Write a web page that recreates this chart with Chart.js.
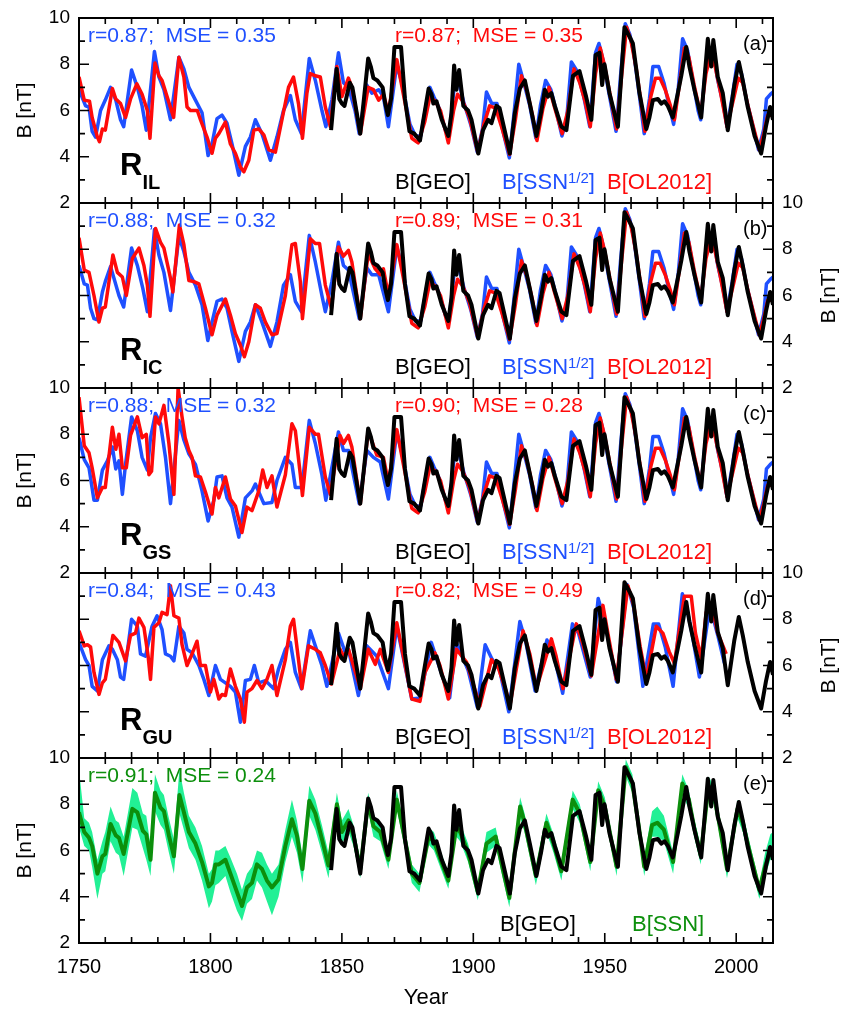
<!DOCTYPE html>
<html>
<head>
<meta charset="utf-8">
<script src="https://cdn.jsdelivr.net/npm/chart.js@4.4.1/dist/chart.umd.min.js"></script>
<style>
  body { margin: 0; background: #fff; }
  #page { position: relative; width: 848px; height: 1013px; overflow: hidden; background: #fff; }
  #page canvas { position: absolute; left: 0; }
</style>
</head>
<body>
<div id="page"></div>
<script>
// ---- data: [year, B in nT] ----

// B[GEO], same curve in every panel
const geoB = [
    [1845.9,5.15],[1848,7.8],[1849,6.5],[1850,6.3],[1851,6.2],[1853,7.2],[1854,7.0],[1855.5,6.0],[1857,5.0],
    [1860,8.25],[1861,7.9],[1862,7.4],[1863.5,7.3],[1865.5,7.0],[1866.5,6.3],[1867.5,5.8],[1868.7,6.5],
    [1870,8.75],[1872.5,8.75],[1874,6.5],[1875.7,5.1],[1877.5,5.0],[1879.7,4.7],[1881,5.6],[1883,6.95],
    [1884.1,6.7],[1884.8,6.3],[1886,6.4],[1888,5.6],[1890.5,4.9],[1891.7,5.9],[1892.7,7.95],[1893.6,6.9],
    [1894.6,7.75],[1896.2,6.2],[1898,6.0],[1899.3,5.6],[1901.9,4.14],[1903.7,5.15],[1905.6,5.6],[1906.9,5.45],
    [1908.8,6.2],[1910,6.1],[1912.6,4.8],[1913.9,4.14],[1915.8,5.9],[1917.7,6.95],[1919.6,7.3],[1921.5,6.3],
    [1924,4.9],[1925.9,6.0],[1927.2,6.9],[1928.4,6.6],[1929.7,6.75],[1931,6.2],[1933.5,5.3],[1935.4,5.15],
    [1937.9,7.5],[1940.4,7.7],[1942.9,6.6],[1944.9,5.6],[1946.5,8.4],[1948,8.5],[1949,7.1],[1949.9,8.0],
    [1951.8,6.75],[1955,5.3],[1957.5,9.6],[1959.4,9.2],[1960.7,8.9],[1963.2,6.75],[1965.8,5.2],[1967,5.7],
    [1968.3,6.45],[1970.2,6.5],[1971.5,6.3],[1972.7,6.4],[1974,6.2],[1975.9,5.7],[1977.8,6.75],[1979.1,7.5],
    [1981,8.75],[1982.2,7.9],[1984.1,6.9],[1986.7,5.7],[1989.2,9.1],[1990.5,7.9],[1991.3,9.05],[1993,7.45],
    [1994.9,6.75],[1996.8,5.15],[1999.3,7.1],[2001,8.1],[2002.5,7.3],[2004.4,6.15],[2007,4.9],[2009.5,4.14],
    [2011.3,5.3],[2012.9,6.15],[2014,5.6]
];

// late parts (after 1875) of B[SSN^1/2] and B[OL2012], nearly the same in panels a-c
const ssnLate = [
    [1875.9,5.4],[1878,4.9],[1880,4.9],[1882,6.2],[1883.5,7.0],[1885,6.6],[1887,6.1],[1889.5,5.1],[1891,5.2],
    [1893,7.3],[1894.5,7.2],[1896.5,6.3],[1899,5.4],[1901.5,4.2],[1903.5,5.2],[1905,6.8],[1907,6.3],[1909,6.3],
    [1911.5,5.0],[1913.7,3.95],[1915.5,5.9],[1917.3,8.0],[1919,7.3],[1921.5,6.2],[1923.8,4.8],[1925.5,6.2],
    [1927.5,7.3],[1929.5,6.9],[1931.5,6.0],[1933.7,4.9],[1935.5,5.6],[1937.3,8.1],[1939.5,7.7],[1942,6.6],
    [1944.3,5.3],[1946.5,8.5],[1947.8,8.9],[1949.5,8.1],[1951.5,6.8],[1954.3,5.1],[1956,7.5],[1957.8,9.75],
    [1959.5,9.3],[1961,8.5],[1963,6.8],[1965,5.0],[1967,6.5],[1968.3,7.9],[1970.5,7.9],[1972.5,7.2],
    [1974.5,6.2],[1976.2,5.4],[1978,7.0],[1979.6,9.1],[1981.5,8.6],[1983.5,7.3],[1985.5,6.0],[1986.5,5.6],
    [1988.5,8.0],[1989.8,8.7],[1991.3,8.5],[1993,7.3],[1995,6.3],[1996.5,5.3],[1998.5,6.6],[2000.3,8.0],
    [2002,7.6],[2004,6.4],[2006,5.5],[2008.5,4.3],[2010.5,5.2],[2011.5,6.5],[2013,6.7],[2014,6.8]
];
const olLate = [
    [1876.6,4.8],[1879,4.6],[1881.5,5.5],[1883.5,6.6],[1885.5,6.4],[1887.5,6.0],[1890.5,4.6],[1892.5,6.0],
    [1894,6.7],[1896,6.4],[1898.5,5.7],[1901.7,4.2],[1904,5.4],[1906.2,6.2],[1908.5,6.1],[1911,5.2],
    [1913.8,4.1],[1916,5.6],[1918.3,7.5],[1920.5,6.8],[1922.5,5.8],[1924.2,4.7],[1926.5,6.1],[1928.8,7.0],
    [1931,6.1],[1933.8,5.0],[1936,6.0],[1938.3,7.8],[1940.5,7.2],[1942.5,6.4],[1944.5,5.3],[1946.5,7.6],
    [1948.3,8.7],[1950,7.9],[1952,6.7],[1954.5,5.2],[1956.5,7.6],[1958.3,9.6],[1960,9.0],[1962,7.8],
    [1963.5,6.6],[1965.3,5.1],[1967.5,6.6],[1969.3,7.4],[1971,7.4],[1973,6.9],[1975,6.2],[1976.5,5.6],
    [1978.5,7.2],[1980.3,8.7],[1982,8.3],[1984,7.1],[1986.5,5.8],[1988.5,7.6],[1990.3,8.4],[1992,7.9],
    [1994,6.8],[1996.5,5.3],[1999,6.5],[2000.8,7.4],[2002.5,7.2],[2004.5,6.2],[2006.5,5.3],[2008.8,4.3],
    [2010.5,5.0],[2012,5.8],[2013.3,5.8]
];

// (a) R_IL
const ilSsn = [
    [1750,6.9],[1752.5,6.2],[1753.8,6.15],[1755,5.1],[1756.3,4.85],[1758.2,6.0],[1760,6.45],[1762,7.0],
    [1764,6.45],[1765.8,5.6],[1767,5.3],[1770,7.75],[1772.2,7.0],[1774,6.2],[1775.6,5.15],[1778.7,8.55],
    [1780.4,7.45],[1782.3,6.9],[1784.8,5.6],[1788,8.3],[1789.9,7.8],[1791.8,7.0],[1794.3,6.45],[1796.8,5.9],
    [1799.1,4.05],[1800.6,4.55],[1802.5,5.65],[1804.4,5.8],[1806.3,5.45],[1808.2,4.55],[1810.8,3.2],
    [1813.3,4.45],[1815.2,4.85],[1817.1,5.6],[1819.6,5.0],[1822.8,3.85],[1825.3,4.85],[1827.8,6.0],
    [1830.4,6.65],[1832.3,5.6],[1834.6,5.0],[1837.6,8.25],[1839.9,7.3],[1842.4,6.0],[1843.9,5.3],
    [1846.2,6.45],[1848.7,8.5],[1850.6,7.2],[1852.5,7.0],[1855,6.0],[1856.6,5.0],[1859.5,7.1],[1861.4,6.75],
    [1864,6.9],[1865.8,6.6],[1867.7,5.3],[1870.9,8.0],[1872.8,7.2]
];
const ilOl = [
    [1750,7.45],[1752,6.45],[1754,6.4],[1755,5.7],[1757,4.85],[1757.8,4.65],[1758.9,5.2],[1760,5.15],
    [1762.7,6.95],[1764,6.5],[1765.8,6.3],[1767.7,5.7],[1769.6,6.5],[1772,7.15],[1774,6.7],[1776,6.0],
    [1777,4.8],[1778.9,8.05],[1780.4,7.5],[1781.6,7.3],[1783.5,6.6],[1786,5.7],[1788,8.3],[1789.9,7.45],
    [1791.1,6.15],[1792.4,6.0],[1795,6.0],[1796.2,5.6],[1798.7,4.85],[1800.6,4.15],[1801.9,4.8],[1803.2,5.0],
    [1805.7,5.5],[1807.6,4.55],[1809.5,4.15],[1811.4,3.55],[1812.7,3.35],[1814.6,3.85],[1816.5,5.15],
    [1818.4,5.2],[1820.3,4.95],[1822.2,4.3],[1824.7,4.2],[1827.2,5.6],[1829.7,7.0],[1831.6,7.45],[1833.5,6.3],
    [1835,4.8],[1836.7,6.75],[1838,7.6],[1839.9,7.5],[1841.8,7.45],[1843.7,6.15],[1845.6,5.3],[1848.1,7.9],
    [1850,6.6],[1852.5,7.4],[1853.8,7.0],[1857,5.0],[1860,7.0],[1862,6.9],[1864,6.45],[1865.8,6.7],
    [1867.7,5.9],[1870.9,8.2],[1873.4,6.7]
];

// (b) R_IC
const icSsn = [
    [1750,7.3],[1752,6.5],[1753.2,6.45],[1754.4,5.45],[1755.7,5.0],[1757,4.95],[1758.9,6.15],[1760,6.6],
    [1762,7.25],[1763.3,6.75],[1765.2,6.0],[1767,5.5],[1770,8.05],[1772.2,7.3],[1774.3,6.3],[1776,5.3],
    [1778.7,8.85],[1780.4,7.75],[1782.3,7.0],[1784.8,5.35],[1788,8.55],[1789.9,7.9],[1791.8,7.0],[1794.3,6.45],
    [1796.8,5.6],[1799,4.05],[1800.6,4.85],[1802.5,5.75],[1804.4,5.85],[1806.3,5.45],[1808.2,4.45],[1810.8,3.15],
    [1813.3,4.45],[1815.2,4.85],[1817.1,5.6],[1819.6,4.85],[1822.8,3.8],[1825.3,4.85],[1827.8,6.45],
    [1830.4,6.9],[1832.3,5.75],[1834.6,5.3],[1837.6,8.6],[1839.9,7.45],[1842.4,6.0],[1843.7,5.3],
    [1846.2,6.6],[1848.7,8.3],[1850.6,7.3],[1852.5,7.1],[1856.6,5.0],[1859.5,7.2],[1861.4,6.9],[1864,6.9],
    [1867.7,5.3],[1870.9,8.1],[1872.8,7.3]
];
const icOl = [
    [1750,8.5],[1752,7.1],[1753.8,7.0],[1755.7,6.0],[1757.6,4.85],[1758.9,5.45],[1760,5.5],[1762.9,7.75],
    [1764.6,7.0],[1766.5,6.8],[1768,6.0],[1770.3,7.6],[1772.8,8.05],[1774.7,7.3],[1776,6.45],[1777,5.1],
    [1779.1,8.9],[1781,8.3],[1782.3,8.05],[1784.8,6.75],[1785.7,6.15],[1788.2,9.05],[1789.9,8.2],[1791.8,6.65],
    [1793.7,6.6],[1795.6,6.5],[1798.1,5.45],[1800.6,4.3],[1802.5,5.15],[1805.7,5.85],[1807.6,5.15],
    [1809.5,4.35],[1811.4,3.85],[1812.9,3.35],[1814.6,4.0],[1817.1,5.6],[1819,5.45],[1820.9,4.85],
    [1823.4,4.3],[1825.3,4.35],[1828.5,6.0],[1831,8.2],[1832.3,8.25],[1834.2,6.6],[1835,5.0],[1838,8.45],
    [1839.9,8.25],[1841.5,8.25],[1843.7,6.45],[1846,5.45],[1848.7,8.1],[1850.6,7.7],[1852.5,7.95],
    [1853.8,7.45],[1857,5.0],[1860,7.8],[1862.7,7.15],[1864.6,6.9],[1865.8,7.15],[1867.7,6.0],[1870.9,8.2],
    [1873.4,6.75]
];

// (c) R_GS
const gsSsn = [
    [1750,7.85],[1752,6.9],[1753.8,6.55],[1755.7,5.15],[1757,5.15],[1758.9,6.45],[1760.8,6.85],[1762.7,7.45],
    [1764,6.5],[1765.2,6.85],[1766.5,5.4],[1767.7,6.7],[1770,8.75],[1772.2,8.15],[1774,7.0],[1776,6.45],
    [1777.2,7.85],[1779.1,8.9],[1781,8.45],[1782.9,7.0],[1784.8,5.0],[1788,8.6],[1789.9,7.75],[1791.8,7.15],
    [1794.3,6.7],[1796.8,5.55],[1799.1,4.25],[1801.3,5.15],[1802.5,6.15],[1804.4,6.2],[1806.3,5.25],
    [1808.2,4.85],[1810.8,3.55],[1813.3,5.25],[1815.8,5.55],[1817.1,5.85],[1820.3,5.0],[1823.4,5.05],
    [1825.3,6.0],[1828.5,7.0],[1831,6.7],[1832.3,5.7],[1834.8,5.7],[1837.6,8.6],[1839.9,7.6],[1842.4,6.25],
    [1843.9,5.15],[1848.7,8.1],[1850.6,7.3],[1852.5,7.3],[1856.6,5.0],[1859.5,7.3],[1862,7.0],[1864.6,6.8],
    [1867.7,5.2],[1870.9,8.1],[1872.8,7.2]
];
const gsOl = [
    [1750,9.6],[1752,7.5],[1753.8,7.2],[1755,6.55],[1757,5.25],[1758.9,5.7],[1760,5.7],[1762.7,8.3],
    [1764,7.35],[1765.2,8.0],[1766.5,6.55],[1768,6.55],[1769.6,7.95],[1772.2,8.75],[1774,7.85],[1775.6,8.0],
    [1776.6,6.25],[1777.6,6.4],[1779.1,8.75],[1780.4,8.45],[1782.3,9.25],[1784.2,7.6],[1786.1,5.4],[1787.7,10.0],
    [1789.2,8.75],[1790.4,7.85],[1791.8,7.3],[1793,7.0],[1794.3,6.2],[1796.2,6.15],[1798.1,5.5],[1800.6,4.55],
    [1801.9,5.7],[1803.2,5.25],[1805.7,6.15],[1807.6,5.2],[1809.5,4.9],[1812,3.75],[1813.9,4.85],[1815.8,4.7],
    [1818.4,5.55],[1819.9,6.45],[1821.5,5.7],[1823.4,6.2],[1825.3,4.85],[1828.5,6.25],[1831,8.45],[1832.3,8.15],
    [1834.2,6.25],[1835,5.35],[1837.6,8.3],[1839.9,8.0],[1841.1,8.0],[1843.7,6.15],[1845.6,5.4],[1849.3,7.95],
    [1850.6,7.6],[1852.5,7.95],[1853.8,7.45],[1857,5.0],[1860,8.15],[1863.3,7.1],[1865.8,7.0],[1867.7,5.9],
    [1870.9,8.2],[1873.4,6.7]
];

// (d) R_GU, ends 1996
const guSsn = [
    [1750,7.0],[1752.5,6.25],[1753.8,6.0],[1755,5.1],[1757,4.9],[1758.9,6.25],[1761.4,6.85],[1762.7,6.7],
    [1764.6,6.25],[1765.8,5.5],[1767,5.4],[1770,8.0],[1772.2,7.7],[1773.4,6.5],[1775.3,6.4],[1777.8,7.7],
    [1779.7,8.15],[1781.6,7.55],[1782.9,6.5],[1784.8,6.4],[1786.1,6.2],[1788,7.7],[1789.9,7.4],[1791.1,6.7],
    [1793,6.55],[1795.6,6.0],[1797.5,5.4],[1799.4,4.7],[1801.9,6.0],[1803.8,5.4],[1805.7,5.25],[1807.6,5.1],
    [1809.5,4.85],[1811.4,3.55],[1813.3,5.35],[1815.2,5.4],[1816.7,6.0],[1818.4,5.25],[1820.9,5.35],[1824,5.0],
    [1825.9,5.85],[1828.5,6.7],[1830.4,7.0],[1832.3,5.7],[1834.6,5.0],[1838,7.5],[1839.9,6.85],[1842.4,6.0],
    [1844.3,5.1],[1848.7,7.4],[1851.3,6.55],[1852.5,6.7],[1856.3,4.7],[1859.5,6.85],[1863.3,6.4],[1867.7,5.0],
    [1870.9,7.7],[1876.6,4.55],[1879.7,4.6],[1882,5.9],[1884,7.0],[1886,6.3],[1891,4.6],[1893.5,7.0],
    [1895,6.6],[1898,5.8],[1901.5,4.2],[1904.5,6.9],[1907,6.3],[1910,5.8],[1913.5,4.0],[1917.7,7.9],[1920,7.0],
    [1923.5,4.9],[1928,7.1],[1930.5,6.5],[1934,4.8],[1937.7,7.8],[1940,7.4],[1944.5,5.5],[1947.5,8.9],
    [1950,7.9],[1954.5,5.3],[1958.5,9.5],[1961,8.5],[1964.5,5.1],[1968.5,7.8],[1970.5,7.8],[1973,6.8],
    [1976,5.1],[1979.5,9.1],[1981,8.6],[1983.5,7.2],[1986,5.5],[1990,8.6],[1993,7.3],[1995.5,6.1]
];
const guOl = [
    [1750,7.5],[1752,6.85],[1753.2,6.9],[1754.4,6.8],[1755.7,5.7],[1757.6,4.75],[1758.9,5.25],[1760,5.4],
    [1762.9,7.3],[1765.2,7.0],[1767.7,6.2],[1769.6,7.3],[1771.5,7.4],[1772.8,8.05],[1774.7,7.65],[1776.3,6.4],
    [1777.2,5.4],[1778.5,7.65],[1780.4,7.85],[1781.6,8.3],[1783.5,8.2],[1784.8,9.45],[1786.1,8.15],[1788,8.05],
    [1789.2,6.9],[1791.1,6.0],[1793,6.5],[1794.9,7.05],[1796.2,6.0],[1798.1,6.0],[1800,4.85],[1801.3,5.4],
    [1803.2,4.55],[1804.4,4.75],[1805.7,4.7],[1807.6,5.85],[1809.5,5.1],[1811.4,4.55],[1812.9,3.55],
    [1813.9,4.85],[1815.8,5.0],[1817.7,5.35],[1819.6,5.0],[1821.5,5.4],[1823.4,6.0],[1825.3,4.7],[1828.5,6.25],
    [1830.4,7.7],[1831.6,8.0],[1833.5,6.25],[1834.8,5.0],[1837.3,6.85],[1839.9,6.7],[1841.8,6.55],[1843.7,6.0],
    [1846,5.2],[1849.3,6.7],[1850.6,6.4],[1852.5,6.7],[1854.4,6.0],[1857,5.0],[1860,6.7],[1862.7,6.05],
    [1864.6,6.7],[1867.7,5.7],[1870.9,7.85],[1873.4,6.4],[1876.6,4.55],[1879.7,4.45],[1881.6,5.7],[1885.4,6.55],
    [1887.3,6.0],[1890.5,4.55],[1893.6,6.7],[1897.4,6.15],[1902.5,4.25],[1906.9,6.25],[1909.5,5.9],[1912.6,4.85],
    [1913.9,4.25],[1918.9,7.5],[1921.5,6.5],[1924,5.0],[1929.7,7.15],[1931.5,6.4],[1934.1,5.0],[1939.2,7.8],
    [1941.5,7.0],[1944.9,5.55],[1949.3,8.6],[1951.5,7.2],[1954.4,5.4],[1958.8,9.45],[1961,8.6],[1963.5,6.8],
    [1965.8,5.4],[1969.6,7.7],[1972.1,7.4],[1974.5,6.6],[1976.5,6.1],[1980.3,9.0],[1982.9,9.0],[1984.5,7.4],
    [1986.7,6.3],[1988.6,8.3],[1990.5,8.7],[1993,7.4],[1996.2,6.5]
];

// (e) B[SSN] with its uncertainty band (low/high at the same years)
const ssnB = [
    [1750,7.65],[1752,6.8],[1753.8,6.55],[1755,6.2],[1757,5.0],[1758.9,5.75],[1760,5.85],[1762,7.15],
    [1764,6.65],[1765.2,6.55],[1767,5.85],[1770.3,7.8],[1772.2,7.65],[1774.3,6.85],[1775.6,6.7],[1777.2,5.6],
    [1778.9,8.5],[1781,7.85],[1782.3,7.7],[1784.2,6.65],[1786.1,5.75],[1788.2,8.4],[1789.9,7.65],[1791.8,6.8],
    [1794.3,6.3],[1796.8,5.5],[1799.4,4.45],[1800.6,4.6],[1801.9,5.4],[1803.2,5.4],[1805.7,5.6],[1807.6,5.0],
    [1810.1,4.2],[1812,3.6],[1813.9,4.4],[1815.8,4.6],[1817.7,5.4],[1819.6,5.2],[1821.5,4.7],[1823.4,4.4],
    [1825.9,4.75],[1828.5,6.2],[1831,7.35],[1832.9,6.65],[1835,5.2],[1837.6,8.15],[1839.9,7.6],[1842.4,6.5],
    [1844.9,5.35],[1848.1,8.0],[1850,6.8],[1852.5,7.3],[1854.4,6.65],[1857,5.2],[1860,8.1],[1862,7.05],
    [1864.6,6.8],[1867.7,5.6],[1870.9,8.2],[1873.4,6.8],[1876.6,5.0],[1879.5,4.6],[1883,6.6],[1885,6.4],
    [1890.5,4.7],[1893.5,7.0],[1895,6.8],[1898,5.9],[1901.7,4.2],[1905,6.3],[1908.5,6.6],[1911,5.3],
    [1913.7,3.95],[1917.8,7.9],[1919.5,7.2],[1923.8,4.9],[1927.8,7.2],[1930.5,6.3],[1933.5,5.1],[1937.8,8.2],
    [1940.5,7.6],[1944.5,5.5],[1947.5,8.6],[1950,7.9],[1954.5,5.3],[1958,9.6],[1960.5,8.9],[1963,7.0],
    [1965,5.3],[1968,7.1],[1970,7.2],[1972.5,6.9],[1976,5.5],[1979.5,8.9],[1982,8.2],[1984,7.0],[1986.5,5.8],
    [1989.5,8.8],[1991.5,8.4],[1993.5,7.2],[1996.5,5.2],[2000.5,7.8],[2002.5,7.2],[2005,6.0],[2008.8,4.3],
    [2011,5.3],[2013,6.0],[2014,6.0]
];
const ssnLow = [
    7.0,6.2,6.0,5.3,3.9,5.0,5.1,6.4,5.9,5.8,4.9,7.0,6.9,6.1,5.6,4.9,7.7,7.1,6.9,5.9,5.0,7.6,6.9,6.1,5.6,4.7,
    3.5,3.8,4.5,4.6,4.9,4.2,3.4,2.95,3.7,3.9,4.7,4.4,3.8,3.2,4.0,5.5,6.6,5.9,4.6,7.5,6.9,5.9,4.8,7.5,6.3,
    6.8,6.2,4.8,7.7,6.6,6.4,5.2,7.8,6.4,4.6,4.2,6.25,6.0,4.35,6.6,6.4,5.5,3.85,5.9,6.2,4.9,3.55,7.4,6.8,
    4.5,6.8,5.9,4.7,7.8,7.2,5.1,8.2,7.5,4.9,9.2,8.5,6.6,4.9,6.6,6.6,6.4,5.0,8.4,7.8,6.6,5.4,8.4,8.0,6.8,
    4.8,7.4,6.8,5.6,3.9,4.9,5.6,5.6
];
const ssnHigh = [
    9.5,7.4,7.2,6.8,5.6,6.4,6.8,7.9,7.3,7.2,6.6,8.7,8.5,7.6,7.5,6.2,9.3,8.6,8.4,7.4,6.5,9.5,8.5,7.5,7.0,6.2,
    5.0,5.2,6.0,6.0,6.2,5.7,5.0,4.3,5.0,5.3,6.0,5.9,5.4,5.0,5.4,6.9,8.2,7.3,5.8,8.8,8.2,7.1,5.9,8.5,7.3,
    7.8,7.1,5.6,8.5,7.5,7.2,6.0,8.6,7.2,5.4,5.0,7.0,6.8,5.05,7.4,7.2,6.3,4.55,6.8,7.0,5.7,4.35,8.3,7.6,
    5.3,7.6,6.7,5.5,8.6,8.0,5.9,9.0,8.3,5.6,9.95,9.3,7.4,5.7,7.7,7.9,7.5,5.9,9.3,8.6,7.4,6.2,9.2,8.8,7.6,
    5.6,8.2,7.6,6.4,4.6,5.9,6.7,6.8
];

// panel texts
const panelLetters = ['(a)', '(b)', '(c)', '(d)', '(e)'];
const panelNames = ['IL', 'IC', 'GS', 'GU'];
const ssnStats = ['r=0.87;  MSE = 0.35', 'r=0.88;  MSE = 0.32', 'r=0.88;  MSE = 0.32', 'r=0.84;  MSE = 0.43'];
const olStats = ['r=0.87;  MSE = 0.35', 'r=0.89;  MSE = 0.31', 'r=0.90;  MSE = 0.28', 'r=0.82;  MSE = 0.49'];
const greenStats = 'r=0.91;  MSE = 0.24';

// ---- style ----
const BLUE = '#1f50ff';
const RED = '#ff0a0a';
const BLACK = '#000000';
const GREEN = '#0c8f0c';
const BAND = '#22f095';
const FONT = '"Liberation Sans", Arial, sans-serif';

const PANEL_H = 185;
const PAD = 24;
const LEFT_W = 79;
const RIGHT_W = 75;
const PAGE_H = 1013;

const pts = pairs => pairs.map(p => ({ x: p[0], y: p[1] }));

function line(pairs, color, width) {
    return {
        data: pts(pairs),
        borderColor: color,
        borderWidth: width,
        borderJoinStyle: 'round',
        pointRadius: 0,
        tension: 0,
        fill: false
    };
}

// draws a row of text pieces (for sub/superscripts)
function drawRuns(ctx, x, y, runs) {
    runs.forEach(r => {
        ctx.font = r.font;
        ctx.fillStyle = r.color;
        ctx.fillText(r.t, x, y + (r.dy || 0));
        x += ctx.measureText(r.t).width;
    });
}

// frame, inward ticks, axis title and text notes
const framePlugin = {
    id: 'frame',
    afterDatasetsDraw(chart, args, opts) {
        const ctx = chart.ctx;
        const a = chart.chartArea;
        const xs = chart.scales.x;
        const ys = chart.scales.y;
        ctx.save();
        ctx.strokeStyle = '#000';
        ctx.lineWidth = 1.6;
        ctx.beginPath();
        for (let yr = 1750; yr <= 2010; yr += 10) {
            const px = xs.getPixelForValue(yr);
            const len = yr % 50 === 0 ? 10 : 6;
            ctx.moveTo(px, a.top); ctx.lineTo(px, a.top + len);
            ctx.moveTo(px, a.bottom); ctx.lineTo(px, a.bottom - len);
        }
        for (let v = 3; v <= 9; v++) {
            const py = ys.getPixelForValue(v);
            const len = v % 2 === 0 ? 10 : 6;
            ctx.moveTo(a.left, py); ctx.lineTo(a.left + len, py);
            ctx.moveTo(a.right, py); ctx.lineTo(a.right - len, py);
        }
        ctx.stroke();
        ctx.lineWidth = 2;
        ctx.strokeRect(a.left, a.top, a.right - a.left, a.bottom - a.top);

        // axis title, reads bottom to top on both sides
        ctx.save();
        ctx.translate(opts.side === 'left' ? 25 : 829, (a.top + a.bottom) / 2);
        ctx.rotate(-Math.PI / 2);
        ctx.font = '21px ' + FONT;
        ctx.fillStyle = '#000';
        ctx.textAlign = 'center';
        ctx.textBaseline = 'middle';
        ctx.fillText('B [nT]', 0, 0);
        ctx.restore();

        ctx.textBaseline = 'alphabetic';
        ctx.textAlign = 'left';
        opts.notes.forEach(n => drawRuns(ctx, a.left + n.x, a.top + n.y, n.runs));
        ctx.restore();
    }
};

function txt(t, color, size, extra) {
    return { t: t, color: color, font: (extra || '') + size + 'px ' + FONT };
}

function panelNotes(i) {
    const notes = [
        { x: 664, y: 32, runs: [txt(panelLetters[i], BLACK, 20)] }
    ];
    if (i < 4) {
        notes.push(
            { x: 9, y: 24, runs: [txt(ssnStats[i], BLUE, 21)] },
            { x: 316, y: 24, runs: [txt(olStats[i], RED, 21)] },
            { x: 41, y: 157, runs: [txt('R', BLACK, 31, 'bold '), Object.assign(txt(panelNames[i], BLACK, 20, 'bold '), { dy: 14 })] },
            { x: 316, y: 171, runs: [txt('B[GEO]', BLACK, 22)] },
            { x: 423, y: 171, runs: [txt('B[SSN', BLUE, 22), Object.assign(txt('1/2', BLUE, 15), { dy: -6 }), txt(']', BLUE, 22)] },
            { x: 528, y: 171, runs: [txt('B[OL2012]', RED, 22)] }
        );
    } else {
        notes.push(
            { x: 9, y: 24, runs: [txt(greenStats, GREEN, 21)] },
            { x: 421, y: 173, runs: [txt('B[GEO]', BLACK, 22)] },
            { x: 553, y: 173, runs: [txt('B[SSN]', GREEN, 22)] }
        );
    }
    return notes;
}

const panels = [
    { top: 18, side: 'left', datasets: [line(geoB, BLACK, 4), line(ilOl.concat(olLate), RED, 3.5), line(ilSsn.concat(ssnLate), BLUE, 3.5)] },
    { top: 203, side: 'right', datasets: [line(geoB, BLACK, 4), line(icOl.concat(olLate), RED, 3.5), line(icSsn.concat(ssnLate), BLUE, 3.5)] },
    { top: 388, side: 'left', datasets: [line(geoB, BLACK, 4), line(gsOl.concat(olLate), RED, 3.5), line(gsSsn.concat(ssnLate), BLUE, 3.5)] },
    { top: 573, side: 'right', datasets: [line(geoB, BLACK, 4), line(guOl, RED, 3.5), line(guSsn, BLUE, 3.5)] },
    { top: 758, side: 'left', xAxis: true, datasets: [
        line(geoB, BLACK, 4),
        line(ssnB, GREEN, 4),
        { data: pts(ssnB.map((p, i) => [p[0], ssnHigh[i]])), borderWidth: 0, pointRadius: 0, fill: false },
        { data: pts(ssnB.map((p, i) => [p[0], ssnLow[i]])), borderWidth: 0, pointRadius: 0, fill: '-1', backgroundColor: BAND }
    ] }
];

const page = document.getElementById('page');

panels.forEach((p, i) => {
    const canvas = document.createElement('canvas');
    const top = Math.max(p.top - PAD, 0);
    const padTop = p.top - top;
    const h = p.xAxis ? PAGE_H - top : PANEL_H + padTop + PAD;
    canvas.width = 848;
    canvas.height = h;
    canvas.style.top = top + 'px';
    page.appendChild(canvas);

    const xScale = {
        type: 'linear',
        min: 1750,
        max: 2014,
        display: !!p.xAxis,
        grid: { display: false, drawTicks: false },
        border: { display: false },
        ticks: {
            stepSize: 50,
            includeBounds: false,
            autoSkip: false,
            maxRotation: 0,
            padding: 12,
            color: '#000',
            font: { family: FONT, size: 20 },
            callback: v => String(v)
        },
        title: {
            display: true,
            text: 'Year',
            color: '#000',
            font: { family: FONT, size: 22 },
            padding: { top: 0, bottom: 2 }
        }
    };
    if (p.xAxis) xScale.afterFit = s => { s.height = h - padTop - PANEL_H; s.paddingLeft = 0; s.paddingRight = 0; };

    new Chart(canvas, {
        type: 'line',
        data: { datasets: p.datasets },
        options: {
            responsive: false,
            animation: false,
            devicePixelRatio: 1,
            events: [],
            layout: {
                autoPadding: false,
                padding: {
                    top: padTop,
                    bottom: p.xAxis ? 0 : PAD,
                    left: p.side === 'right' ? LEFT_W : 0,
                    right: p.side === 'left' ? RIGHT_W : 0
                }
            },
            scales: {
                x: xScale,
                y: {
                    position: p.side,
                    min: 2,
                    max: 10,
                    afterFit: s => {
                        s.width = p.side === 'left' ? LEFT_W : RIGHT_W;
                        s.paddingTop = 0;
                        s.paddingBottom = 0;
                    },
                    grid: { display: false, drawTicks: false },
                    border: { display: false },
                    ticks: {
                        stepSize: 2,
                        padding: 9,
                        color: '#000',
                        font: { family: FONT, size: 19 }
                    }
                }
            },
            plugins: {
                legend: { display: false },
                tooltip: { enabled: false },
                frame: { side: p.side, notes: panelNotes(i) }
            }
        },
        plugins: [framePlugin]
    });
});
</script>
</body>
</html>
